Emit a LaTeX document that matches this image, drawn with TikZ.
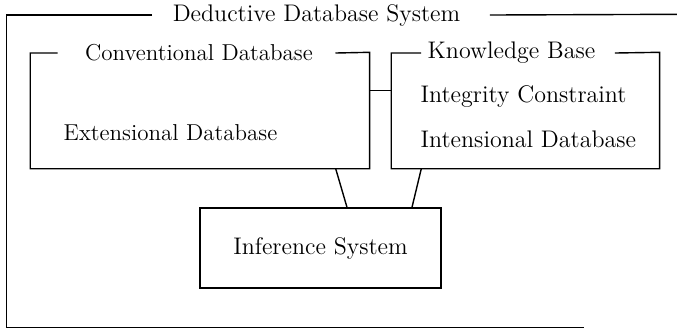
\documentclass[tikz,border=0pt]{standalone}
\begin{document}
\begin{tikzpicture}[x=0.5pt,y=-0.5pt,font=\large,line width=0.7pt,
    feld/.style={inner sep=0pt},
    titel/.style={inner sep=0pt},
    klein/.style={font=\fontsize{11.5pt}{14pt}\selectfont}]
    % Deduktives Datenbanksystem
    \useasboundingbox (0,0) rectangle (677,329);
    \node[feld, minimum width=335pt, minimum height=156pt] (dds) at (342,171) {};
    \node[feld, minimum width=169pt, minimum height=57.5pt] (cdb) at (200,110.5) {};
    \node[feld, minimum width=133.5pt, minimum height=57.5pt] (kb) at (525.5,110.5) {};
    \node[draw, feld, minimum width=120.5pt, minimum height=40pt] (inf) at (320.5,248) {Inference System};
    \node[titel] (ddst) at (316.5,15) {Deductive Database System};
    \node[titel, klein] (cdbt) at (199,53) {Conventional Database};
    \node[titel] (kbt) at (511.5,53) {Knowledge Base};
    \node[titel, klein, anchor=west] (ext) at (63,133) {Extensional Database};
    \node[titel, anchor=west] (ic) at (420,97) {Integrity Constraint};
    \node[titel, anchor=west] (idb) at (420,139) {Intensional Database};
    \draw ([xshift=-10pt]ddst.west) -| (dds.south west) -- ++(578,0);
    \draw ([xshift=14.5pt]ddst.east) -- (dds.north east);
    \draw ([xshift=-13.5pt]cdbt.west) -| (cdb.south west) -| (cdb.north east) -- ([xshift=11pt]cdbt.east);
    \draw ([xshift=-3pt]kbt.west) -| (kb.south west) -| (kb.north east) -- ([xshift=9.5pt]kbt.east);
    \draw ([yshift=10pt]cdb.east) -- ([yshift=10pt]kb.west);
    \draw ([xshift=-17pt]cdb.south east) -- ([xshift=13.25pt]inf.north);
    \draw ([xshift=15pt]kb.south west) -- ([xshift=45.75pt]inf.north);
\end{tikzpicture}
\end{document}
